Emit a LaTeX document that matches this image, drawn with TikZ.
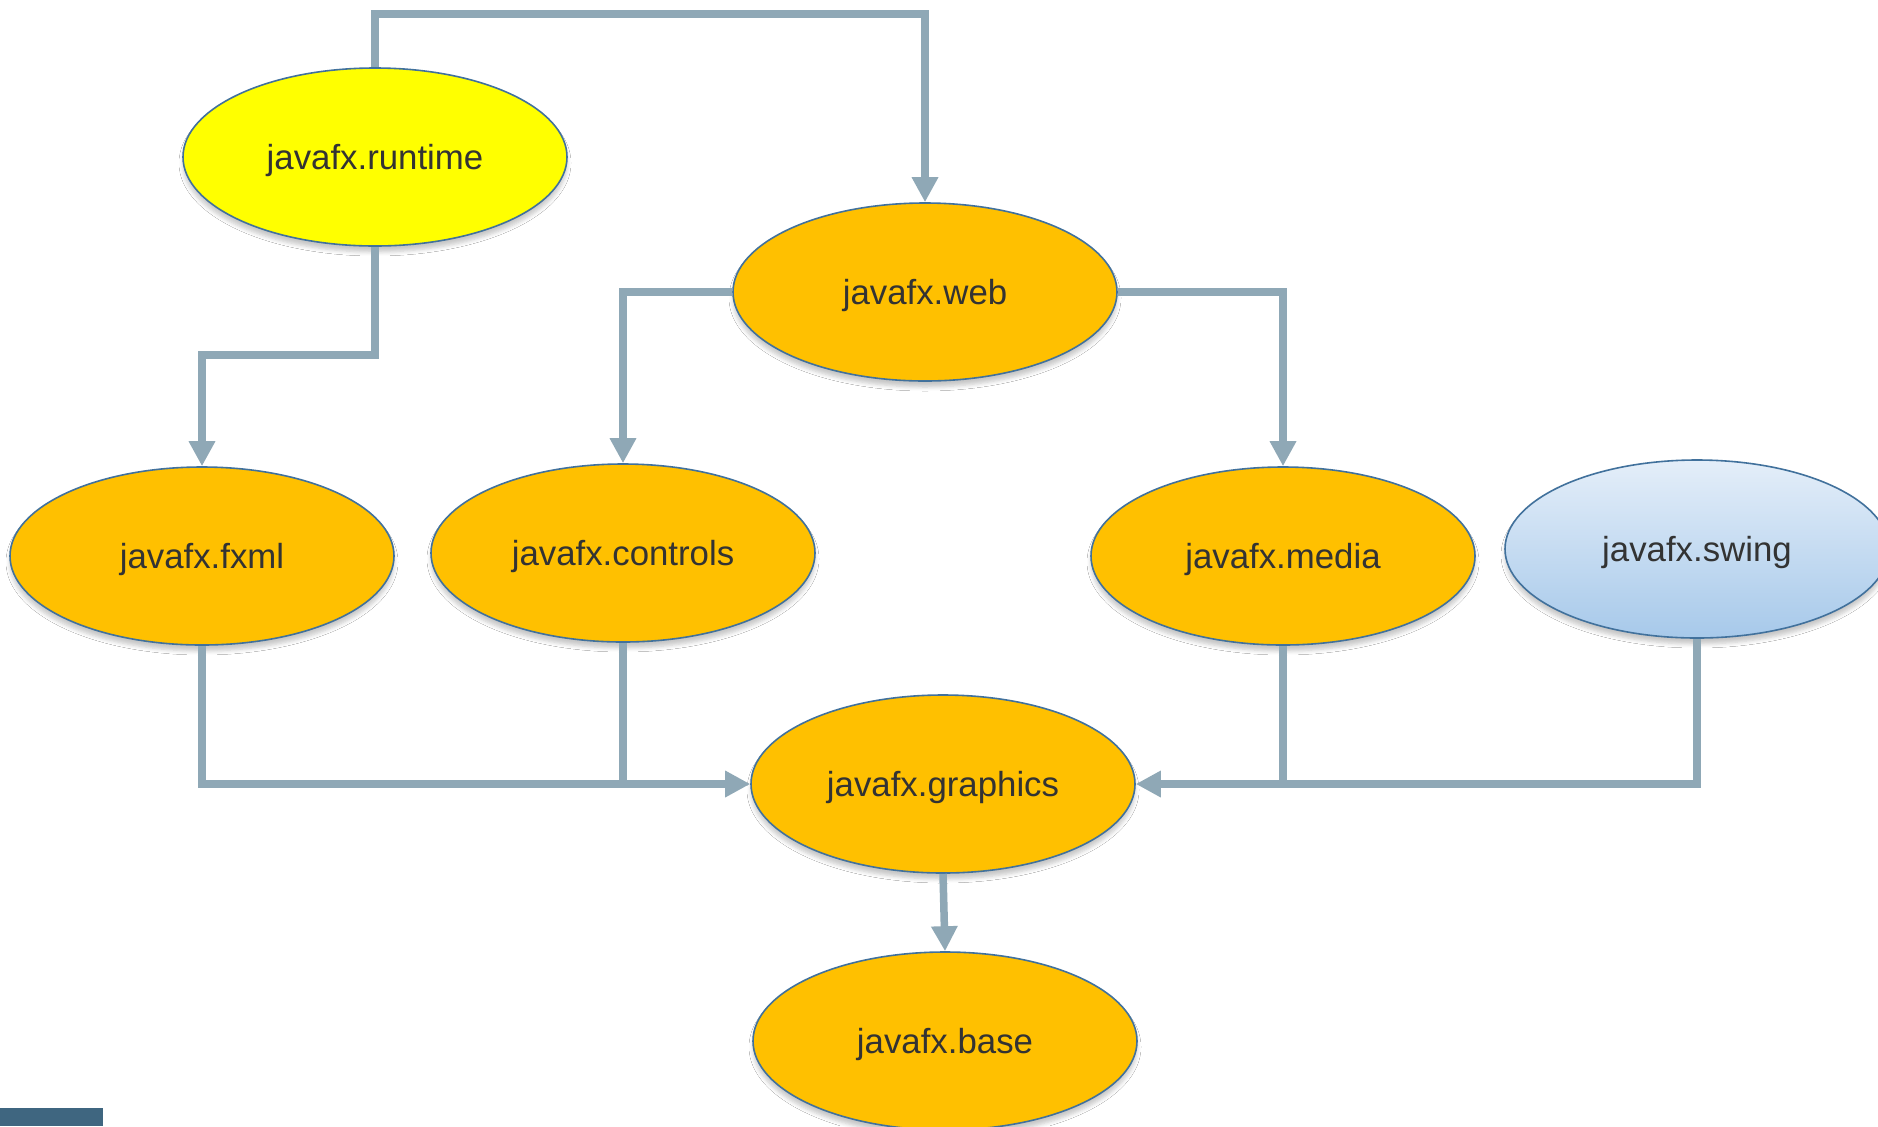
\documentclass[tikz,border=0pt]{standalone}
\usepackage{fontspec}
\setmainfont{Liberation Sans}
\usetikzlibrary{shapes.geometric,arrows.meta,shadows.blur}
\definecolor{modfill}{HTML}{FFC000}
\definecolor{rtfill}{HTML}{FFFF00}
\definecolor{modline}{HTML}{41719C}
\definecolor{connline}{HTML}{8FA8B6}
\definecolor{modtext}{HTML}{333333}
\definecolor{swtop}{HTML}{E4EEF9}
\definecolor{swbot}{HTML}{A7C9EA}
\definecolor{cornerbar}{HTML}{3F6680}
\tikzset{
  module/.style={ellipse, draw=modline, line width=0.8pt, fill=modfill,
    minimum width=192pt, minimum height=89pt, inner sep=0pt,
    text=modtext, font=\fontsize{17.4}{20}\selectfont,
    text depth=-1.8pt,
    blur shadow={shadow xshift=0pt, shadow yshift=-3pt,
      shadow blur radius=2pt, shadow blur steps=5, shadow opacity=22}},
  conn/.style={draw=connline, line width=3.75pt,
    -{Triangle[length=12.5pt,width=12.5pt]}},
  plain/.style={draw=connline, line width=3.75pt}
}
\begin{document}
\begin{tikzpicture}[x=0.5pt,y=-0.5pt]
\useasboundingbox (0,0) rectangle (1878,1126);
\clip (0,0) rectangle (1878,1126);
\fill[white] (0,0) rectangle (1878,1126);

% bend points of the routed connectors
\coordinate (topbend) at (650,14);
\coordinate (rtbend) at (290,355);

% modules
\node[module, fill=rtfill] (runtime) at (375,157) {javafx.runtime};
\node[module] (web) at (925,292) {javafx.web};
\node[module] (fxml) at (202,556) {javafx.fxml};
\node[module] (controls) at (623,553) {javafx.controls};
\node[module] (media) at (1283,556) {javafx.media};
\node[module, top color=swtop, bottom color=swbot] (swing) at (1697,549) {javafx.swing};
\node[module] (graphics) at (943,784) {javafx.graphics};
\node[module] (base) at (945,1041) {javafx.base};

% dependencies
\draw[conn] (runtime.north) |- (topbend) -| (web.north);
\draw[conn] (runtime.south) |- (rtbend) -| (fxml.north);
\draw[conn] (web.west) -| (controls.north);
\draw[conn] (web.east) -| (media.north);
\draw[conn] (fxml.south) |- (graphics.west);
\draw[plain] (controls.south) |- ([xshift=-20]graphics.west);
\draw[conn] (swing.south) |- (graphics.east);
\draw[plain] (media.south) -- (media.south |- graphics.east);
\draw[conn] (graphics.south) -- (base.north);

% corner bar
\fill[cornerbar] (0,1108) rectangle (103,1126);
\end{tikzpicture}
\end{document}
